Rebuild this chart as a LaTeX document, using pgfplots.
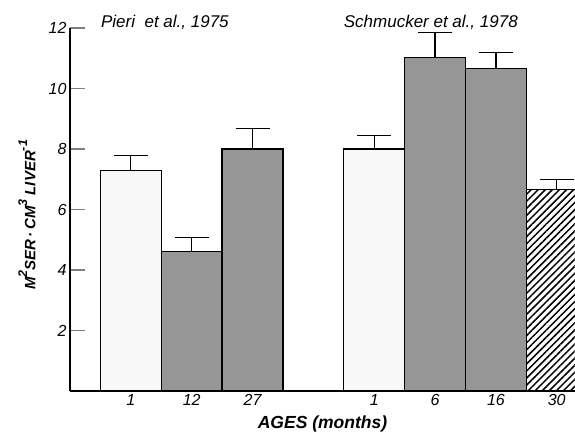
\documentclass[border=0pt]{standalone}
\usepackage{fontspec}
\setmainfont{Liberation Sans}
\usepackage{pgfplots}
\pgfplotsset{compat=1.18}
\usetikzlibrary{patterns,patterns.meta}
\definecolor{barg}{RGB}{155,155,155}
\definecolor{barw}{RGB}{248,248,248}
\newcommand{\supr}[1]{\raisebox{0.55em}{\fontsize{12.5}{14}\selectfont #1}}
\begin{document}
\begin{tikzpicture}
\useasboundingbox (-70pt,-47pt) rectangle (505pt,391pt);
\begin{axis}[
  scale only axis, width=505pt, height=363pt,
  xmin=-1, xmax=7.3, ymin=0, ymax=12,
  axis x line*=bottom, axis y line*=left,
  axis line style={-, line width=1.3pt},
  xtick={0,1,2,4,5,6,7}, xticklabels={1,12,27,1,6,16,30},
  ytick={2,4,6,8,10,12}, yticklabels={2,4,6,8,10,12},
  tick align=inside, major tick length=15pt,
  ytick style={line width=1.3pt}, xtick style={draw=none},
  tick label style={font=\fontsize{16}{18}\selectfont\itshape},
  clip mode=individual,
  xlabel={\fontsize{17.5}{20}\selectfont\bfseries\itshape AGES (months)},
  xlabel style={at={(axis description cs:0.5,-0.091)}, anchor=center},
  ylabel={\fontsize{15}{18}\selectfont\bfseries\itshape M\supr{2}SER\,·\,CM\supr{3} LIVER\supr{-1}},
  ylabel style={at={(axis description cs:-0.085,0.485)}, anchor=center},
  every axis plot/.append style={ybar, bar width=1, bar shift=0pt, draw=black, line width=1.3pt,
    error bars/y dir=plus, error bars/y explicit,
    error bars/error bar style={line width=1.3pt, black},
    error bars/error mark options={rotate=90, mark size=17pt, line width=1.3pt, black}},
]
\addplot[fill=barw] coordinates {(0,7.3) +- (0,0.48)};
\addplot[fill=barg, postaction={pattern={Dots[distance=2pt,radius=0.45pt]}, pattern color=black!60}] coordinates {(1,4.6) +- (0,0.47)};
\addplot[fill=barg, postaction={pattern={Dots[distance=2pt,radius=0.45pt]}, pattern color=black!60}] coordinates {(2,8.0) +- (0,0.68)};
\addplot[fill=barw] coordinates {(4,8.0) +- (0,0.44)};
\addplot[fill=barg, postaction={pattern={Dots[distance=2pt,radius=0.45pt]}, pattern color=black!60}] coordinates {(5,11.03) +- (0,0.82)};
\addplot[fill=barg, postaction={pattern={Dots[distance=2pt,radius=0.45pt]}, pattern color=black!60}] coordinates {(6,10.66) +- (0,0.53)};
\addplot[fill=white, postaction={pattern={Lines[angle=45,distance=5pt,line width=1.5pt]}, pattern color=black}] coordinates {(7,6.66) +- (0,0.33)};
\node[font=\fontsize{17}{19}\selectfont\itshape] at (axis cs:0.56,12.2) {Pieri\ \ et al., 1975};
\node[font=\fontsize{17}{19}\selectfont\itshape] at (axis cs:4.93,12.2) {Schmucker et al., 1978};
\end{axis}
\end{tikzpicture}
\end{document}
